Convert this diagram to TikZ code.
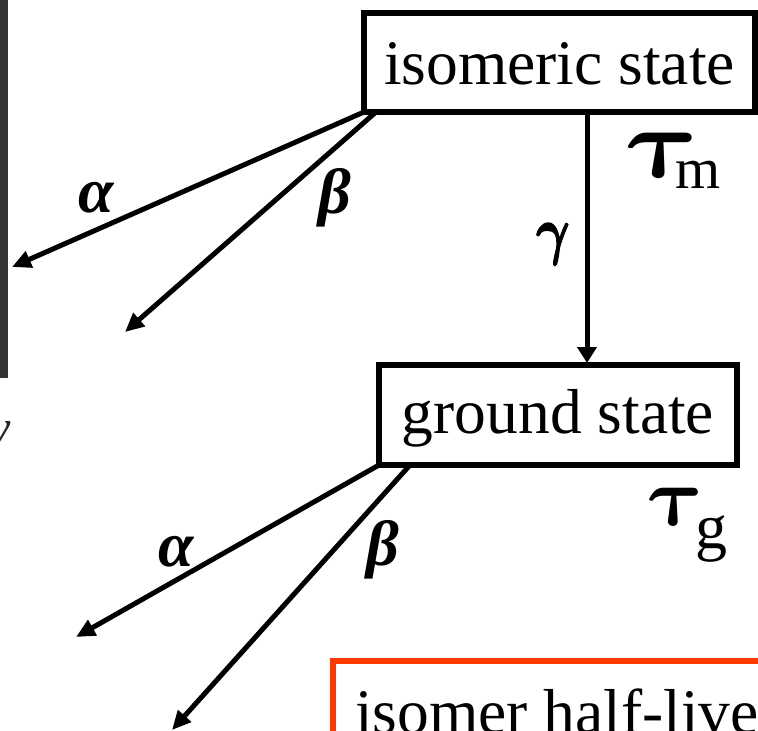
\RequirePackage{fix-cm}
\documentclass[tikz,border=0pt]{standalone}
\usepackage{amsmath}
\usepackage{fontspec}
\setmainfont{Liberation Serif}
\usetikzlibrary{arrows.meta,calc}
\definecolor{stripgray}{HTML}{353535}
\definecolor{halfred}{HTML}{FF3A00}
\newcommand{\heavyglyph}[2]{\special{pdf:literal direct #1 w 2 Tr}#2\special{pdf:literal direct 0 Tr}}
\begin{document}
\begin{tikzpicture}[x=1pt,y=-1pt,
  statebox/.style={draw, line width=5.5pt, rectangle, inner sep=0pt, outer sep=0pt,
    font=\fontsize{63.5}{70}\selectfont},
  decay/.style={line width=5pt, -{Triangle[length=19pt,width=17pt]}},
  gammaarrow/.style={line width=5pt, shorten >=2pt, -{Triangle[length=16pt,width=19pt]}},
  glabel/.style={inner sep=0pt, font=\fontsize{64}{70}\selectfont\bfseries\itshape},
  taubig/.style={inner sep=0pt, xslant=-0.22},
  plain/.style={inner sep=0pt, outer sep=0pt}]
\useasboundingbox (0,0) rectangle (758,731);
\clip (0,0) rectangle (758,731);
\fill[white] (0,0) rectangle (758,731);
\fill[stripgray] (0,0) rectangle (8,378);
\node[plain, anchor=north east, font=\fontsize{48}{50}\selectfont\itshape, text=black!85] (yfrag) at (11,421) {y};

\node[statebox, minimum width=391pt, minimum height=99pt, text height=43pt, text depth=0pt] (iso) at (559.5,62.5) {isomeric state};
\node[statebox, minimum width=358pt, minimum height=100pt, text height=43pt, text depth=7pt] (ground) at (558,415) {ground state};

\coordinate (a1) at (12,267);
\coordinate (b1) at (125,332);
\coordinate (a2) at (76,637);
\coordinate (b2) at (172,730);
\coordinate (gx) at (587,0);

\draw[decay] (iso.south west) -- (a1);
\draw[decay] ([xshift=12pt]iso.south west) -- (b1);
\draw[gammaarrow] (iso.south -| gx) -- (ground.north -| gx);
\draw[decay] (ground.south west) -- (a2);
\draw[decay] ([xshift=31pt]ground.south west) -- (b2);

\node[glabel] (la1) at (96,198) {α};
\node[glabel] (lb1) at (335,198) {β};
\node[inner sep=0pt, xscale=0.8, font=\fontsize{64}{70}\selectfont] (lg) at (553,244) {\heavyglyph{1.6}{$\boldsymbol{\gamma}$}};
\node[glabel] (la2) at (176,552) {α};
\node[glabel] (lb2) at (383,550) {β};

\node[taubig, xscale=1.15, font=\fontsize{100}{110}\selectfont] (tm) at (664.5,155.5) {$\boldsymbol{\tau}$};
\node[plain, font=\fontsize{58}{70}\selectfont] (tms) at (698.5,175) {m};
\node[taubig, xscale=1.05, font=\fontsize{84}{90}\selectfont] (tg) at (677.5,507) {$\boldsymbol{\tau}$};
\node[plain, font=\fontsize{64}{70}\selectfont] (tgs) at (711,539) {g};

\node[draw=halfred, line width=6pt, anchor=north west, minimum width=600pt, minimum height=200pt, inner sep=0pt, outer sep=0pt] (half) at (333,661) {};
\node[plain, anchor=base west, font=\fontsize{63.5}{70}\selectfont] (halftxt) at (355,733) {isomer half-live};
\end{tikzpicture}
\end{document}
